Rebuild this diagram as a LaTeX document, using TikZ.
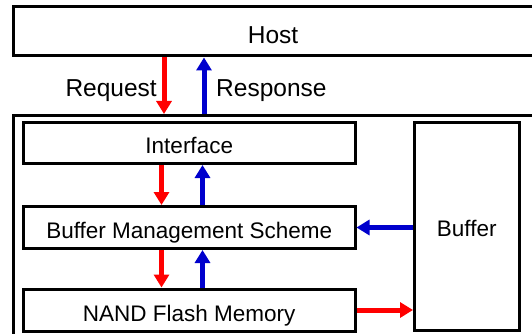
\documentclass[tikz,border=0pt]{standalone}
\usepackage{fontspec}
\setmainfont{Liberation Sans}
\usetikzlibrary{arrows.meta}
\definecolor{reqred}{RGB}{255,0,0}
\definecolor{resblue}{RGB}{0,0,205}
\tikzset{
  box/.style={draw=black, line width=3pt, fill=white, inner sep=0pt},
  boxtext/.style={font=\fontsize{22.5}{26}\selectfont, text height=16pt, text depth=0pt},
  bigtext/.style={font=\fontsize{24.5}{28}\selectfont, text height=17.5pt, text depth=0pt},
  flow/.style={line width=5pt, -{Triangle[width=15pt,length=13pt]}},
  req/.style={flow, draw=reqred, color=reqred},
  res/.style={flow, draw=resblue, color=resblue},
  lbl/.style={inner sep=0pt, bigtext}
}
\begin{document}
\begin{tikzpicture}[x=1pt, y=-1pt]
  \clip (0,0) rectangle (532,334);
  \useasboundingbox (0,0) rectangle (532,334);
  \fill[white] (0,0) rectangle (532,334);

  % host and the device enclosure
  \node[box, minimum width=520pt, minimum height=49pt] (host) at (273,31.5) {};
  \node[bigtext] (hosttxt) at (273,34.5) {Host};
  \node[box, minimum width=520pt, minimum height=221.5pt] (ssd) at (273,226.25) {};

  % device blocks
  \node[box, minimum width=331.5pt, minimum height=41.5pt] (iface) at (189.25,142.75) {};
  \node[box, minimum width=331.5pt, minimum height=42pt] (bms) at (189.25,227.5) {};
  \node[box, minimum width=331.5pt, minimum height=42pt] (nand) at (189.25,310) {};
  \node[box, minimum width=104.5pt, minimum height=208.5pt] (buf) at (466.75,226.25) {};

  % block captions, set a little below each centre
  \node[boxtext] (ifacetxt) at ([yshift=-3pt]iface.center) {Interface};
  \node[boxtext] (bmstxt) at ([yshift=-3pt]bms.center) {Buffer Management Scheme};
  \node[boxtext] (nandtxt) at ([yshift=-3.5pt]nand.center) {NAND Flash Memory};
  \node[boxtext] (buftxt) at ([yshift=-2pt]buf.center) {Buffer};

  % columns of the vertical connectors
  \coordinate (hr) at (164,0);
  \coordinate (hb) at (204,0);
  \coordinate (cr) at (161.5,0);
  \coordinate (cb) at (202.5,0);

  % host <-> device
  \draw[req] (host.south -| hr) -- (ssd.north -| hr);
  \draw[res] (ssd.north -| hb) -- (host.south -| hb);
  \node[lbl, anchor=east] (reqlbl) at (157,87.4) {Request};
  \node[lbl, anchor=west] (reslbl) at (216,87.4) {Response};

  % interface <-> buffer management
  \draw[req] (iface.south -| cr) -- (bms.north -| cr);
  \draw[res] (bms.north -| cb) -- (iface.south -| cb);

  % buffer management <-> flash
  \draw[req] (bms.south -| cr) -- (nand.north -| cr);
  \draw[res] (nand.north -| cb) -- (bms.south -| cb);

  % buffer links
  \draw[res] (buf.west |- bms.east) -- (bms.east);
  \draw[req] (nand.east) -- (buf.west |- nand.east);
\end{tikzpicture}
\end{document}
